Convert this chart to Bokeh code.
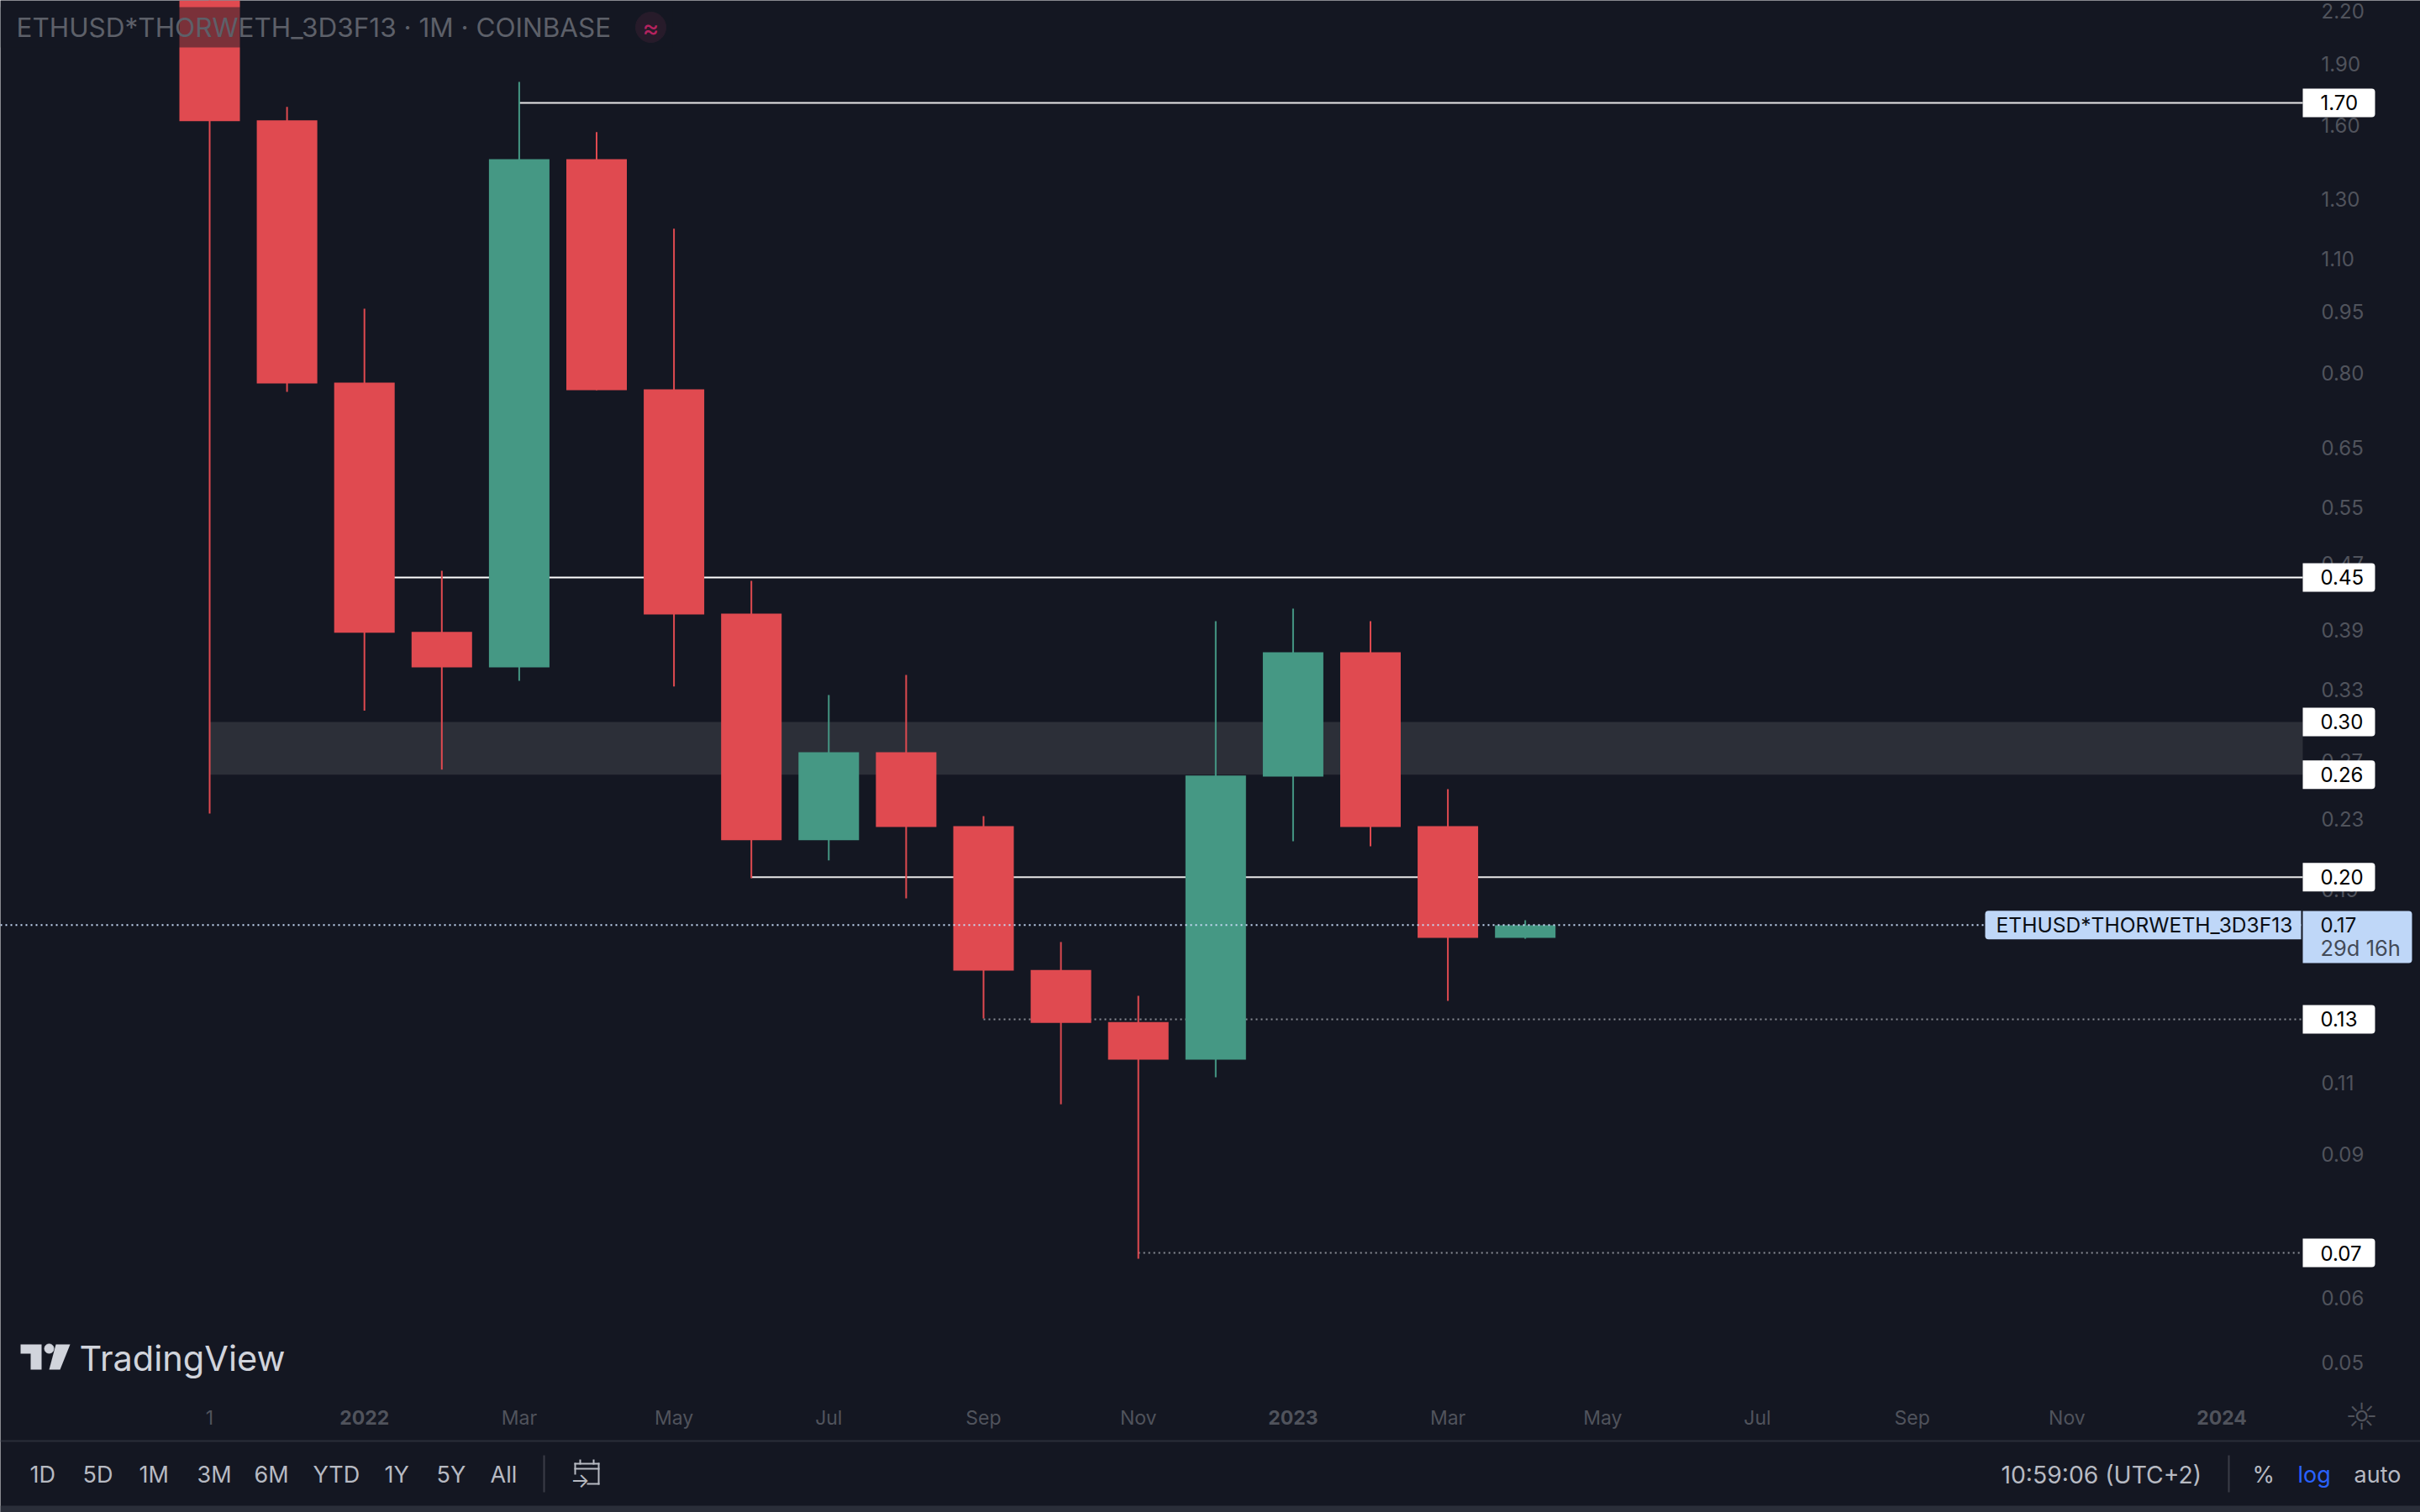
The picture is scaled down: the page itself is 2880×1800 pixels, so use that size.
from bokeh.plotting import figure
from bokeh.models import (Range1d, LinearScale, FixedTicker, BoxAnnotation, Label)
from bokeh.embed import file_html
from bokeh.resources import INLINE

# ---------- data ----------
month_index = list(range(18))
highs  = [2.60, 1.677, 0.9582, 0.4629, 1.798, 1.564, 1.196, 0.4501, 0.3279, 0.3467, 0.2343, 0.1652, 0.1423, 0.4024, 0.4168, 0.4024, 0.2525, 0.1755]
opens  = [2.40, 1.616, 0.7804, 0.3906, 0.3540, 1.451, 0.7661, 0.4110, 0.2191, 0.2798, 0.2279, 0.1529, 0.1323, 0.1192, 0.2615, 0.3693, 0.2279, 0.1671]
closes = [1.612, 0.7786, 0.3897, 0.3540, 1.451, 0.7642, 0.4100, 0.2191, 0.2798, 0.2274, 0.1526, 0.1320, 0.1192, 0.2622, 0.3693, 0.2274, 0.1671, 0.1731]
lows   = [0.2360, 0.7606, 0.3139, 0.2666, 0.3410, 0.7642, 0.3358, 0.1972, 0.2072, 0.1865, 0.1336, 0.1053, 0.0686, 0.1135, 0.2185, 0.2155, 0.1403, 0.1667]

price_ticks = [2.189, 1.892, 1.594, 1.298, 1.101, 0.950, 0.8012, 0.6511, 0.5523, 0.4727, 0.3930, 0.3326,
               0.2733, 0.2325, 0.1913, 0.1117, 0.0916, 0.0615, 0.0514]
price_labels = ["2.20", "1.90", "1.60", "1.30", "1.10", "0.95", "0.80", "0.65", "0.55", "0.47", "0.39", "0.33",
                "0.27", "0.23", "0.19", "0.11", "0.09", "0.06", "0.05"]

month_ticks = [0, 4, 6, 8, 10, 12, 16, 18, 20, 22, 24]
month_labels = ["1", "Mar", "May", "Jul", "Sep", "Nov", "Mar", "May", "Jul", "Sep", "Nov"]
year_ticks = [2, 14, 26]
year_labels = ["2022", "2023", "2024"]

solid_levels = [1.6964, 0.4544, 0.1978]
solid_starts = [4, 2, 7]
solid_colors = ["#e8e8e8", "#ffffff", "#e8e8e8"]
solid_tags = ["1.70", "0.45", "0.20"]
dotted_levels = [0.1333, 0.0697]
dotted_starts = [10, 12]
dotted_tags = ["0.13", "0.07"]
zone_top, zone_bottom = 0.3043, 0.2628
zone_tags = ["0.30", "0.26"]
last_price = 0.1732
symbol = "ETHUSD*THORWETH_3D3F13"
range_buttons = ["1D", "5D", "1M", "3M", "6M", "YTD", "1Y", "5Y", "All"]

# ---------- style ----------
BG = "#141722"
RED = "#e04a50"
GREEN = "#459884"
AXIS = "#50535c"
TOOL = "#b7bac2"
FONT = "Inter"
PX_PER_DECADE = 987.5

# the frame fills the page: x page px = 249 + 92.1 * month, y page px = 348.7 - 987.5 * log10(price)
CHART_END = 27.047   # month position of the price-scale edge (page x 2740)
p = figure(width=2880, height=1800, output_backend="svg", toolbar_location=None,
           x_range=Range1d(-2.7036, 28.567), y_range=Range1d(0.03392, 2.2542),
           y_axis_type="log", y_axis_location="right",
           background_fill_color=BG, border_fill_color=BG, outline_line_color=None,
           min_border_left=0, min_border_right=0, min_border_top=0, min_border_bottom=0)
p.grid.visible = False
p.extra_x_ranges = {"px": Range1d(0, 2880)}
p.extra_y_ranges = {"py": Range1d(1800, 0)}
p.extra_x_scales = {"px": LinearScale()}
p.extra_y_scales = {"py": LinearScale()}

# axes (labels pulled into the frame by a negative standoff)
xa = p.xaxis[0]
xa.ticker = FixedTicker(ticks=month_ticks)
xa.major_label_overrides = dict(zip(month_ticks, month_labels))
xa.axis_line_color = None
xa.major_tick_line_color = None
xa.minor_tick_line_color = None
xa.major_label_standoff = -133
xa.major_label_text_color = AXIS
xa.major_label_text_font = FONT
xa.major_label_text_font_size = "23px"

ya = p.yaxis[0]
ya.ticker = FixedTicker(ticks=price_ticks)
ya.major_label_overrides = dict(zip(price_ticks, price_labels))
ya.axis_line_color = None
ya.major_tick_line_color = None
ya.minor_tick_line_color = None
ya.major_label_standoff = -124
ya.major_label_text_color = AXIS
ya.major_label_text_font = FONT
ya.major_label_text_font_size = "24px"

# zone + levels (behind candles)
p.quad(left=[0], right=[CHART_END], top=[zone_top], bottom=[zone_bottom], fill_color="#2c2f38", line_color=None)
for lvl, s, c in zip(solid_levels, solid_starts, solid_colors):
    p.line([s, CHART_END], [lvl, lvl], line_color=c, line_width=2)
for lvl, s in zip(dotted_levels, dotted_starts):
    p.line([s, CHART_END], [lvl, lvl], line_color="#8a8d95", line_width=2, line_dash="2 4")

# candles
colors = [GREEN if c >= o else RED for o, c in zip(opens, closes)]
p.segment(month_index, highs, month_index, lows, line_color=colors, line_width=2)
p.vbar(x=month_index, width=0.782, top=[max(o, c) for o, c in zip(opens, closes)],
       bottom=[min(o, c) for o, c in zip(opens, closes)], fill_color=colors, line_color=None)

# last price line
p.line([p.x_range.start, CHART_END], [last_price, last_price], line_color="#c5d9f5", line_width=2, line_dash="2 4")

def box(left, right, top, bottom, fill, alpha=1.0, radius=0):
    p.add_layout(BoxAnnotation(left=left, right=right, top=top, bottom=bottom, x_range_name="px", y_range_name="py",
                               fill_color=fill, fill_alpha=alpha, line_color=None, border_radius=radius, level="overlay"))

def txt(x, y, s, color=TOOL, size=27, align="left", font=FONT, style="normal", **kw):
    p.add_layout(Label(x=x, y=y, text=s, x_range_name="px", y_range_name="py", text_color=color,
                       text_font_size=f"{size}px", text_align=align, text_baseline="middle",
                       text_font=font, text_font_style=style, level="overlay", **kw))

def tag(price, text):
    half = 10 ** (17 / PX_PER_DECADE)
    p.add_layout(BoxAnnotation(left=2740, right=2826, top=price * half, bottom=price / half, x_range_name="px",
                               fill_color="#ffffff", fill_alpha=1.0, line_color=None, level="overlay",
                               border_radius=dict(top_left=0, top_right=4, bottom_right=4, bottom_left=0)))
    p.add_layout(Label(x=2761, y=price, text=text, x_range_name="px", text_color="#000000", level="overlay",
                       text_font_size="24px", text_font=FONT, text_baseline="middle"))

# title band
box(0, 800, 8, 56, BG, alpha=0.5)
txt(19, 32, f"{symbol} · 1M · COINBASE", color="#5d6069", size=31.5)
p.scatter([774], [32], size=36, color="#3a1f33", x_range_name="px", y_range_name="py")
txt(774, 32, "≈", color="#b5235f", size=30, align="center")

# TradingView logo
p.patches([[24, 50, 50, 49, 49, 36, 36, 24], [66, 83, 71, 58]],
          [[1600, 1600, 1600, 1600, 1630, 1630, 1611, 1611], [1600, 1600, 1630, 1630]],
          x_range_name="px", y_range_name="py", fill_color="#d1d4dc", line_color=None)
p.scatter([58], [1605], size=11, color="#d1d4dc", x_range_name="px", y_range_name="py")
txt(94, 1616, "TradingView", color="#d1d4dc", size=41.5)

# tags
for lvl, t in zip(solid_levels, solid_tags):
    tag(lvl, t)
for lvl, t in zip(dotted_levels, dotted_tags):
    tag(lvl, t)
tag(zone_top, zone_tags[0])
tag(zone_bottom, zone_tags[1])

half = 10 ** (17 / PX_PER_DECADE)
p.add_layout(BoxAnnotation(left=2362, right=2738, top=last_price * half, bottom=last_price / half, x_range_name="px",
                           fill_color="#bfd7f8", fill_alpha=1.0, line_color=None, level="overlay",
                           border_radius=dict(top_left=4, top_right=0, bottom_right=0, bottom_left=4)))
p.add_layout(BoxAnnotation(left=2740, right=2870, top=1084, bottom=1146, x_range_name="px", y_range_name="py",
                           fill_color="#bfd7f8", fill_alpha=1.0, line_color=None, level="overlay",
                           border_radius=dict(top_left=0, top_right=4, bottom_right=4, bottom_left=0)))
p.add_layout(Label(x=2375, y=last_price, text=symbol, x_range_name="px", text_color="#0b0e14", text_font_size="24.6px",
                   text_font=FONT, text_baseline="middle", level="overlay"))
p.add_layout(Label(x=2761, y=last_price, text="0.17", x_range_name="px", text_color="#0b0e14", text_font_size="24px",
                   text_font=FONT, text_baseline="middle", level="overlay"))
txt(2761, 1128, "29d 16h", color="#434a57", size=25.5)

# year labels on the time axis
for t, s in zip(year_ticks, year_labels):
    p.add_layout(Label(x=t, y=1687, text=s, y_range_name="py", text_color=AXIS, text_font_size="23px", level="overlay",
                       text_font=FONT, text_font_style="bold", text_align="center", text_baseline="middle"))
txt(2810, 1686, "☼", color=AXIS, size=44, align="center", font="DejaVu Sans")

# bottom toolbar
box(0, 2880, 1714, 1716, "#2a2e39")
for x, s in zip([35, 98, 165, 234, 302, 372, 457, 519, 583], range_buttons):
    txt(x, 1755, s)
box(646, 648, 1732, 1776, "#3a3d47")
# calendar icon
box(683, 713, 1741, 1743, TOOL)
box(683, 713, 1747, 1749, TOOL)
box(683, 685, 1741, 1755, TOOL)
box(711, 713, 1741, 1767, TOOL)
box(698, 713, 1765, 1767, TOOL)
box(689, 691, 1737, 1743, TOOL)
box(705, 707, 1737, 1743, TOOL)
txt(690, 1762, "→", size=24, align="center")
txt(2381, 1755, "10:59:06 (UTC+2)", size=28.3)
box(2651, 2653, 1732, 1776, "#3a3d47")
txt(2680, 1755, "%")
txt(2734, 1755, "log", color="#2962ff")
txt(2801, 1755, "auto")
box(0, 2880, 1792, 1800, "#2a2e39")

open("out.html", "w").write(file_html(p, INLINE))
